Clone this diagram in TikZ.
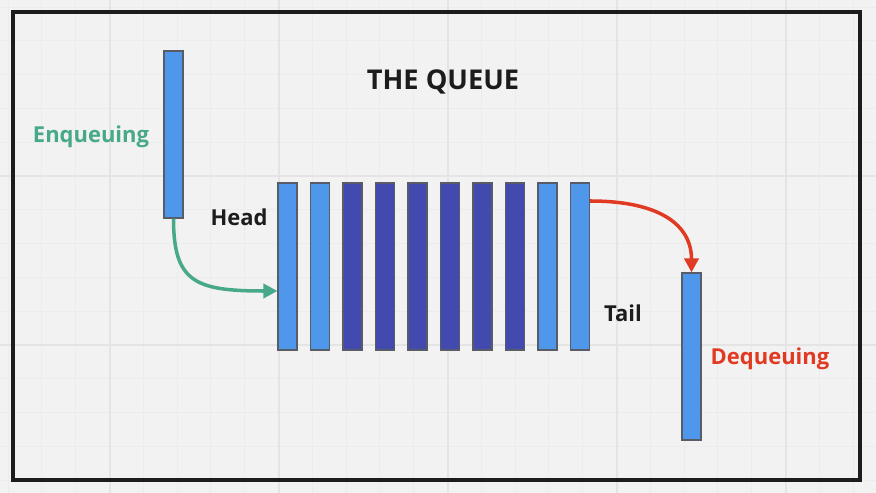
\documentclass[tikz,border=0pt]{standalone}
\usepackage{fontspec}
\setmainfont{Open Sans}
\usetikzlibrary{arrows.meta}
\definecolor{paper}{HTML}{F2F2F2}
\definecolor{gridminor}{HTML}{ECECEC}
\definecolor{gridmajor}{HTML}{E4E4E4}
\definecolor{lightbar}{HTML}{4F97EB}
\definecolor{darkbar}{HTML}{434AAF}
\definecolor{barline}{HTML}{585C66}
\definecolor{enqcol}{HTML}{47A98A}
\definecolor{deqcol}{HTML}{E03A22}
\definecolor{inkcol}{HTML}{1C1C1C}

\begin{document}
\begin{tikzpicture}[x=0.02cm,y=-0.02cm,minorline/.style={draw=gridminor, line width=0.4pt},majorline/.style={draw=gridmajor, line width=0.6pt},frame/.style={draw=inkcol, line width=2.3pt},bar/.style={draw=barline, line width=0.6pt, minimum width=0.38cm, minimum height=3.34cm, inner sep=0pt},lightcell/.style={bar, fill=lightbar},darkcell/.style={bar, fill=darkbar},flow/.style={line width=2pt, -{Triangle[length=8pt,width=8pt]}},label/.style={font=\bfseries\fontsize{12.5}{14}\selectfont, inner sep=0pt},title/.style={font=\bfseries\fontsize{15.5}{18}\selectfont, text=inkcol, inner sep=0pt}]
\useasboundingbox (0,0) rectangle (876,493);
\fill[paper] (0,0) rectangle (876,493);
% faint grid behind everything
\foreach \k in {0,...,25} {\draw[minorline] (8+33.8*\k,0) -- (8+33.8*\k,493);}
\foreach \k in {0,...,14} {\draw[minorline] (0,7+33.8*\k) -- (876,7+33.8*\k);}
\foreach \x in {110,279,448,617,786} {\draw[majorline] (\x,0) -- (\x,493);}
\foreach \y in {176,345} {\draw[majorline] (0,\y) -- (876,\y);}
\draw[frame] (13,12) rectangle (860,480);
\node[title] (title) at (443,82) {THE QUEUE};
% the queue itself
\foreach \i/\s in {1/lightcell,2/lightcell,3/darkcell,4/darkcell,5/darkcell,6/darkcell,7/darkcell,8/darkcell,9/lightcell,10/lightcell} {\node[\s] (q\i) at (287.5+32.5*\i-32.5,266.5) {};}
\node[lightcell] (enq) at (173.5,134.5) {}; \node[lightcell] (deq) at (691.5,356.5) {};
\node[label, text=enqcol] (enqlabel) at (91,137) {Enqueuing};
\node[label, text=deqcol] (deqlabel) at (770,359) {Dequeuing};
\node[label, text=inkcol] (head) at (239,217) {Head}; \node[label, text=inkcol] (tail) at (623,313) {Tail};
\coordinate (inpt) at (q1.west |- 0,291); \coordinate (outpt) at (q10.east |- 0,201);
\draw[flow, enqcol] (enq.south) .. controls (173.5,282) and (195,291) .. (inpt);
\draw[flow, deqcol] (outpt) .. controls (660,201) and (691.5,225) .. (deq.north);
\end{tikzpicture}
\end{document}
